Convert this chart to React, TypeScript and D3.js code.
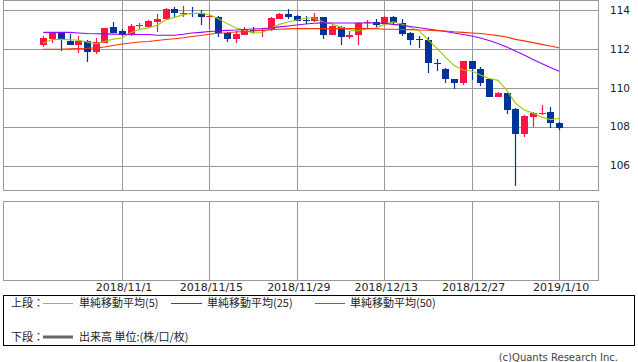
import React from 'react';
import { scaleLinear, scalePoint, line } from 'd3';

// trading days shown on the chart (weekdays)
const dates = [
  '2018/10/19',
  '2018/10/22', '2018/10/23', '2018/10/24', '2018/10/25', '2018/10/26',
  '2018/10/29', '2018/10/30', '2018/10/31',
  '2018/11/1', '2018/11/2',
  '2018/11/5', '2018/11/6', '2018/11/7', '2018/11/8', '2018/11/9',
  '2018/11/12', '2018/11/13', '2018/11/14', '2018/11/15', '2018/11/16',
  '2018/11/19', '2018/11/20', '2018/11/21', '2018/11/22', '2018/11/23',
  '2018/11/26', '2018/11/27', '2018/11/28', '2018/11/29', '2018/11/30',
  '2018/12/3', '2018/12/4', '2018/12/5', '2018/12/6', '2018/12/7',
  '2018/12/10', '2018/12/11', '2018/12/12', '2018/12/13', '2018/12/14',
  '2018/12/17', '2018/12/18', '2018/12/19', '2018/12/20', '2018/12/21',
  '2018/12/24', '2018/12/25', '2018/12/26', '2018/12/27', '2018/12/28',
  '2018/12/31',
  '2019/1/1', '2019/1/2', '2019/1/3', '2019/1/4',
  '2019/1/7', '2019/1/8', '2019/1/9', '2019/1/10',
];

const opens = [
  112.18, 112.52, 112.83, 112.42, 112.22, 112.39, 111.84, 112.32, 113.11, 112.9,
  112.7, 113.2, 113.14, 113.38, 113.52, 114.07, 113.82, 113.86, 113.83, 113.67,
  113.66, 112.83, 112.52, 112.73, 112.97, 112.92, 112.97, 113.55, 113.79, 113.69,
  113.47, 113.45, 113.62, 112.73, 113.14, 112.63, 112.7, 113.33, 113.38, 113.28,
  113.62, 113.32, 112.83, 112.49, 112.46, 111.28, 110.95, 110.44, 110.26, 111.36,
  110.95, 110.45, 109.54, 109.72, 108.92, 107.62, 108.51, 108.7, 108.75, 108.2,
];
const highs = [
  112.66, 112.87, 112.85, 112.77, 112.66, 112.46, 112.56, 113.07, 113.38, 113.01,
  113.28, 113.35, 113.49, 113.79, 114.1, 114.14, 114.21, 114.17, 114.0, 113.72,
  113.67, 112.85, 112.9, 113.11, 113.11, 113.01, 113.62, 113.86, 114.04, 113.76,
  113.69, 113.83, 113.66, 113.24, 113.16, 112.94, 113.38, 113.49, 113.52, 113.68,
  113.69, 113.55, 112.85, 112.66, 112.6, 111.46, 111.0, 110.46, 111.38, 111.38,
  111.05, 110.47, 109.78, 109.75, 108.96, 108.6, 108.77, 109.11, 109.03, 108.24,
];
const lows = [
  112.11, 112.32, 111.91, 112.2, 111.8, 111.33, 111.74, 112.29, 112.8, 112.66,
  112.66, 113.04, 113.11, 112.87, 113.49, 113.62, 113.62, 113.62, 113.24, 113.01,
  112.6, 112.35, 112.29, 112.72, 112.83, 112.63, 112.94, 113.55, 113.52, 113.42,
  113.28, 113.38, 112.52, 112.7, 112.18, 112.52, 112.21, 113.07, 113.11, 113.24,
  113.24, 112.66, 112.21, 112.05, 110.77, 110.88, 110.23, 109.95, 110.12, 110.42,
  110.11, 109.53, 109.53, 108.65, 104.95, 107.48, 108.0, 108.6, 107.93, 107.83,
];
const closes = [
  112.56, 112.83, 112.49, 112.22, 112.42, 111.84, 112.35, 113.07, 112.83, 112.7,
  113.18, 113.22, 113.45, 113.55, 114.07, 113.83, 113.85, 113.82, 113.62, 113.69,
  112.83, 112.52, 112.77, 113.04, 112.9, 112.96, 113.59, 113.79, 113.66, 113.45,
  113.44, 113.62, 112.73, 113.18, 112.63, 112.73, 113.32, 113.36, 113.24, 113.66,
  113.35, 112.77, 112.46, 112.47, 111.26, 111.25, 110.44, 110.26, 111.36, 110.98,
  110.26, 109.54, 109.75, 108.86, 107.62, 108.55, 108.72, 108.72, 108.17, 107.93,
];

const ma5 = [
  112.29, 112.48, 112.49, 112.47, 112.44, 112.36, 112.26, 112.38, 112.5, 112.56,
  112.83, 113.0, 113.08, 113.22, 113.49, 113.62, 113.75, 113.82, 113.84, 113.76,
  113.56, 113.3, 113.09, 112.97, 112.81, 112.84, 113.05, 113.26, 113.38, 113.49,
  113.59, 113.59, 113.38, 113.28, 113.12, 112.98, 112.92, 113.04, 113.06, 113.26,
  113.39, 113.28, 113.1, 112.94, 112.46, 112.04, 111.58, 111.14, 110.91, 110.86,
  110.66, 110.48, 110.38, 109.88, 109.21, 108.86, 108.7, 108.49, 108.36, 108.42,
];
const ma25 = [
  112.85, 112.85, 112.85, 112.85, 112.82, 112.79, 112.78, 112.77, 112.76, 112.75,
  112.75, 112.74, 112.74, 112.7, 112.7, 112.7, 112.75, 112.82, 112.85, 112.89,
  112.92, 112.95, 112.97, 113.0, 113.02, 113.04, 113.07, 113.13, 113.18, 113.23,
  113.28, 113.32, 113.34, 113.33, 113.33, 113.33, 113.33, 113.33, 113.33, 113.31,
  113.26, 113.21, 113.15, 113.09, 113.02, 112.96, 112.89, 112.82, 112.74, 112.66,
  112.56, 112.43, 112.28, 112.1, 111.89, 111.69, 111.45, 111.25, 111.04, 110.85,
];
const ma50 = [
  111.98, 111.98, 111.98, 112.0, 112.02, 112.03, 112.05, 112.1, 112.17, 112.25,
  112.3, 112.35, 112.38, 112.43, 112.48, 112.52, 112.57, 112.64, 112.69, 112.75,
  112.8, 112.83, 112.87, 112.89, 112.92, 112.96, 112.99, 113.01, 113.03, 113.05,
  113.04, 113.04, 113.04, 113.04, 113.04, 113.04, 113.04, 113.04, 113.04, 113.01,
  113.01, 113.0, 112.99, 112.97, 112.96, 112.94, 112.92, 112.88, 112.85, 112.82,
  112.79, 112.74, 112.68, 112.61, 112.49, 112.41, 112.32, 112.23, 112.15, 112.06,
];

const priceTicks = [106, 108, 110, 112, 114];
const dateTicks = ['2018/11/1', '2018/11/15', '2018/11/29', '2018/12/13', '2018/12/27', '2019/1/10'];

const width = 638;
const height = 362;
const plot = { left: 4, right: 598, top: 0, bottom: 190 };
const vol = { top: 201, bottom: 280 };

const gridColor = '#999999';
const upColor = '#ff1443';
const downColor = '#003399';
const axisFont = "'DejaVu Sans', sans-serif";
const jpFont = "'Noto Sans CJK JP', sans-serif";

const xScale = scalePoint<string>().domain(dates).range([43.3, 559.1]);
const yScale = scaleLinear().domain([106, 114]).range([165.5, 10]);

const crisp = (v: number) => Math.round(v) + 0.5;

const maLine = (values: number[]) =>
  line<number>()
    .x((_, i) => xScale(dates[i]) as number)
    .y(d => yScale(d))(values) || '';

const averages = [
  { values: ma5, color: '#99cc00' },
  { values: ma25, color: '#9900ff' },
  { values: ma50, color: '#ff3300' },
];

export default function App() {
  return (
    <svg
      width={width}
      height={height}
      style={{ position: 'absolute', left: 0, top: 0, background: '#fff' }}>
      {/* upper panel */}
      <rect
        x={plot.left - 0.5}
        y={plot.top + 0.5}
        width={plot.right - plot.left + 1}
        height={plot.bottom - plot.top}
        fill='#fff'
        stroke={gridColor}
      />
      {priceTicks.map(t => (
        <g key={t}>
          <line
            x1={plot.left}
            x2={plot.right}
            y1={crisp(yScale(t))}
            y2={crisp(yScale(t))}
            stroke={gridColor}
          />
          <text
            x={610}
            y={yScale(t)}
            dy='.36em'
            fontFamily={axisFont}
            fontSize={10.5}
            fill='#222'>
            {t}
          </text>
        </g>
      ))}
      {dateTicks.map(d => (
        <line
          key={d}
          x1={crisp(xScale(d) as number)}
          x2={crisp(xScale(d) as number)}
          y1={plot.top}
          y2={plot.bottom}
          stroke={gridColor}
        />
      ))}

      {/* lower panel (volume, empty) */}
      <rect
        x={plot.left - 0.5}
        y={vol.top + 0.5}
        width={plot.right - plot.left + 1}
        height={vol.bottom - vol.top}
        fill='#fff'
        stroke={gridColor}
      />
      {dateTicks.map(d => (
        <g key={d}>
          <line
            x1={crisp(xScale(d) as number)}
            x2={crisp(xScale(d) as number)}
            y1={vol.top}
            y2={vol.bottom}
            stroke={gridColor}
          />
          <text
            x={(xScale(d) as number) + 2}
            y={291}
            textAnchor='middle'
            fontFamily={axisFont}
            fontSize={11}
            fill='#222'>
            {d}
          </text>
        </g>
      ))}

      {/* candles */}
      {dates.map((d, i) => {
        const cx = Math.round(xScale(d) as number);
        const up = closes[i] >= opens[i];
        const color = up ? upColor : downColor;
        const top = Math.round(yScale(Math.max(opens[i], closes[i])));
        const bottom = Math.round(yScale(Math.min(opens[i], closes[i])));
        return (
          <g key={d}>
            <line
              x1={cx + 0.5}
              x2={cx + 0.5}
              y1={Math.round(yScale(highs[i]))}
              y2={Math.round(yScale(lows[i]))}
              stroke={color}
              strokeWidth={1.2}
            />
            <rect
              x={cx - 3}
              y={top}
              width={7}
              height={Math.max(1, bottom - top)}
              fill={color}
            />
          </g>
        );
      })}

      {/* moving averages */}
      {averages.map(a => (
        <path
          key={a.color}
          d={maLine(a.values)}
          fill='none'
          stroke={a.color}
          strokeWidth={1.1}
        />
      ))}

      {/* legend */}
      <rect x={3.5} y={295.5} width={631} height={50} fill='#fff' stroke='#000' />
      <g fontFamily={jpFont} fontSize={11} fill='#222'>
        <text x={11} y={307}>上段：</text>
        <line x1={43} x2={73} y1={303.5} y2={303.5} stroke='#99cc00' />
        <text x={79} y={307}>単純移動平均(5)</text>
        <line x1={171} x2={202} y1={303.5} y2={303.5} stroke='#9900ff' />
        <text x={207} y={307}>単純移動平均(25)</text>
        <line x1={315} x2={345} y1={303.5} y2={303.5} stroke='#ff3300' />
        <text x={350} y={307}>単純移動平均(50)</text>
        <text x={11} y={340.5}>下段：</text>
        <line x1={43} x2={73} y1={337} y2={337} stroke='#666' strokeWidth={3} />
        <text x={79} y={340.5}>出来高 単位:(株/口/枚)</text>
      </g>
      <text
        x={618}
        y={361}
        textAnchor='end'
        fontFamily={axisFont}
        fontSize={10}
        fill='#444'>
        (c)Quants Research Inc.
      </text>
    </svg>
  );
}
